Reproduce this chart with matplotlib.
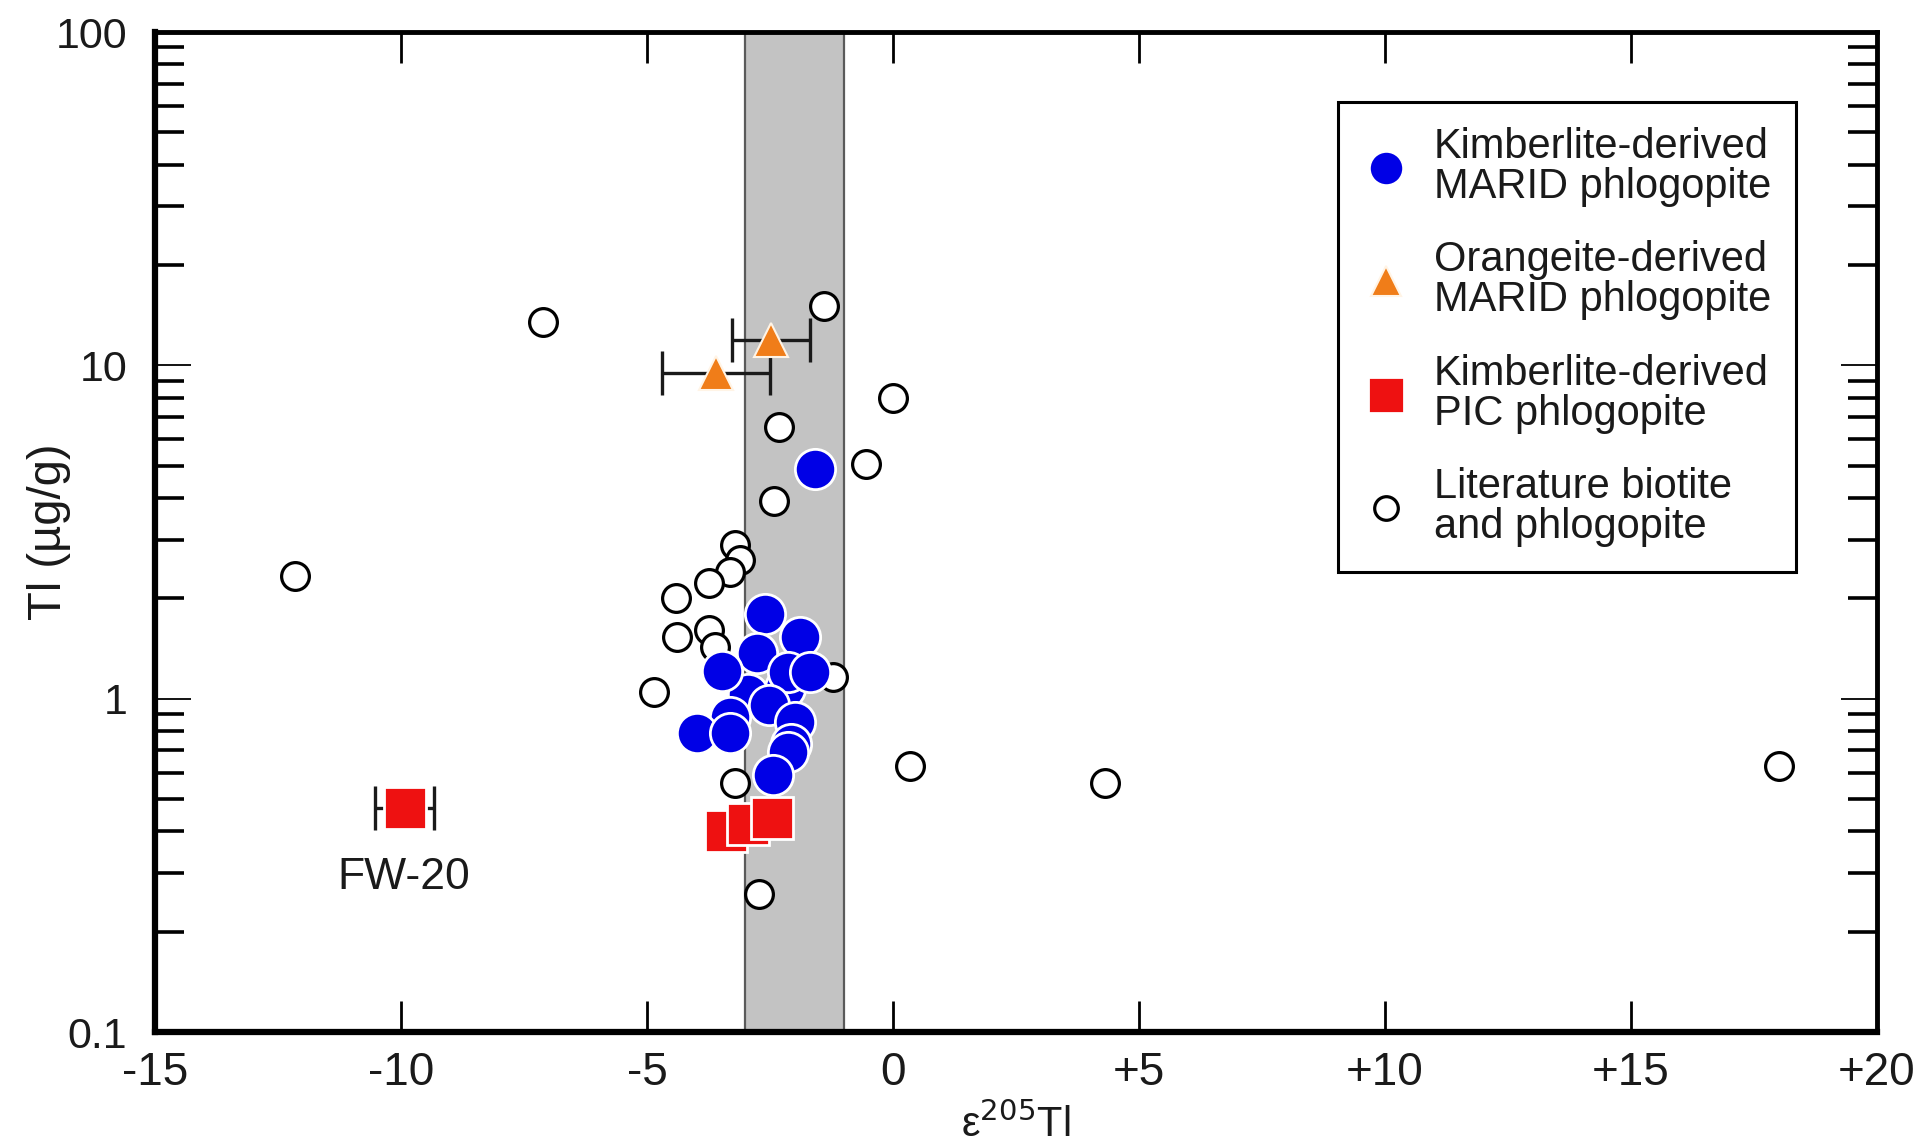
import matplotlib
matplotlib.use("Agg")
import matplotlib.pyplot as plt
from matplotlib.ticker import LogLocator, NullFormatter, FixedLocator, FixedFormatter

plt.rcParams['font.family'] = ['Liberation Sans', 'DejaVu Sans']

# ---- data ----
lit_x = [-12.15, -7.12, -1.4, 0.0, -2.32, -0.55, -2.42, -3.22, -3.1, -3.32, -3.75,
         -4.42, -4.4, -3.75, -3.62, -4.85, -1.22, -3.22, -2.72, 0.35, 4.3, 18.0]
lit_y = [2.34, 13.5, 15.1, 8.0, 6.53, 5.07, 3.93, 2.89, 2.61, 2.40, 2.22,
         2.01, 1.53, 1.61, 1.43, 1.05, 1.16, 0.56, 0.26, 0.63, 0.56, 0.63]

kim_x = [-1.58, -2.2, -2.95, -2.61, -1.89, -2.76, -3.48, -2.14, -1.69, -2.53,
         -3.31, -1.99, -3.98, -3.31, -2.07, -2.14, -2.44]
kim_y = [4.9, 1.08, 1.03, 1.79, 1.53, 1.37, 1.21, 1.2, 1.2, 0.96,
         0.88, 0.85, 0.79, 0.79, 0.73, 0.69, 0.59]

ora_x = [-3.6, -2.48]
ora_y = [9.5, 11.9]
ora_xerr = [1.1, 0.8]

pic_x = [-9.92, -3.4, -2.95, -2.45]
pic_y = [0.47, 0.40, 0.42, 0.44]
fw20_xerr = 0.6

band = (-3.0, -1.0)
xticks = [-15, -10, -5, 0, 5, 10, 15, 20]
xticklabels = ['-15', '-10', '-5', '0', '+5', '+10', '+15', '+20']
yticks = [0.1, 1, 10, 100]
yticklabels = ['0.1', '1', '10', '100']

# ---- figure ----
fig = plt.figure(figsize=(19.25, 11.43), dpi=100)
ax = fig.add_axes([155/1925, 1-1032/1143, (1877-155)/1925, (1032-32)/1143])

ax.set_yscale('log')
ax.set_xlim(-15, 20)
ax.set_ylim(0.1, 100)

ax.axvspan(band[0], band[1], facecolor='#c3c3c3', edgecolor='#5a5a5a', lw=1.6, zorder=1)

ax.plot(lit_x, lit_y, 'o', ls='none', ms=20, mfc='white', mec='black', mew=2.3,
        zorder=3, label='Literature biotite\nand phlogopite')

ax.plot(kim_x, kim_y, 'o', ls='none', ms=29, mfc='#0000e6', mec='white', mew=2.0,
        zorder=4, label='Kimberlite-derived\nMARID phlogopite')

ax.errorbar(ora_x, ora_y, xerr=ora_xerr, fmt='none', ecolor='#1a1a1a', elinewidth=2.4,
            capsize=16, capthick=2.4, zorder=4.5)
ax.plot(ora_x, ora_y, '^', ls='none', ms=25, mfc='#f07d19', mec='#fff4e6', mew=1.5,
        zorder=5, label='Orangeite-derived\nMARID phlogopite')

ax.errorbar([pic_x[0]], [pic_y[0]], xerr=[fw20_xerr], fmt='none', ecolor='#1a1a1a',
            elinewidth=2.4, capsize=16, capthick=2.4, zorder=5.5)
ax.plot(pic_x, pic_y, 's', ls='none', ms=30, mfc='#ee1111', mec='white', mew=2.0,
        zorder=6, label='Kimberlite-derived\nPIC phlogopite')

ax.text(-9.95, 0.29, 'FW-20', fontsize=32, ha='center', va='center', color='#1a1a1a')

ax.xaxis.set_major_locator(FixedLocator(xticks))
ax.xaxis.set_major_formatter(FixedFormatter(xticklabels))
ax.yaxis.set_major_locator(FixedLocator(yticks))
ax.yaxis.set_major_formatter(FixedFormatter(yticklabels))
ax.yaxis.set_minor_locator(LogLocator(base=10, subs=range(2, 10)))
ax.yaxis.set_minor_formatter(NullFormatter())

ax.tick_params(axis='x', which='major', direction='in', top=True, bottom=True,
               length=22, width=2.0, labelsize=33, pad=14, labelcolor='#1a1a1a')
ax.tick_params(axis='y', which='major', direction='in', left=True, right=True,
               length=26, width=1.3, labelsize=31, pad=20, labelcolor='#1a1a1a')
ax.tick_params(axis='y', which='minor', direction='in', left=True, right=True,
               length=21, width=2.6)

for s in ax.spines.values():
    s.set_linewidth(3.5)
    s.set_color('black')
ax.spines['left'].set_linewidth(4.5)
ax.spines['bottom'].set_linewidth(4.5)

ax.set_xlabel('ε$^{205}$Tl', fontsize=30, labelpad=6, color='#1a1a1a')
ax.set_ylabel('Tl (µg/g)', fontsize=34, color='#1a1a1a', va='center')
ax.yaxis.set_label_coords((49 - 155) / 1722, 0.5)

handles, labels = ax.get_legend_handles_labels()
order = [1, 2, 3, 0]
leg = ax.legend([handles[i] for i in order], [labels[i] for i in order],
                loc='upper right', bbox_to_anchor=(0.953, 0.930), borderaxespad=0,
                fontsize=30, frameon=True, fancybox=False, edgecolor='black',
                framealpha=1, labelspacing=0.8, handletextpad=0.6, borderpad=0.6,
                handlelength=1.1, markerscale=0.85)
leg.get_frame().set_linewidth(2.2)
for t in leg.get_texts():
    t.set_linespacing(1.0)
    t.set_color('#1a1a1a')

fig.savefig('out.png', dpi=100)
